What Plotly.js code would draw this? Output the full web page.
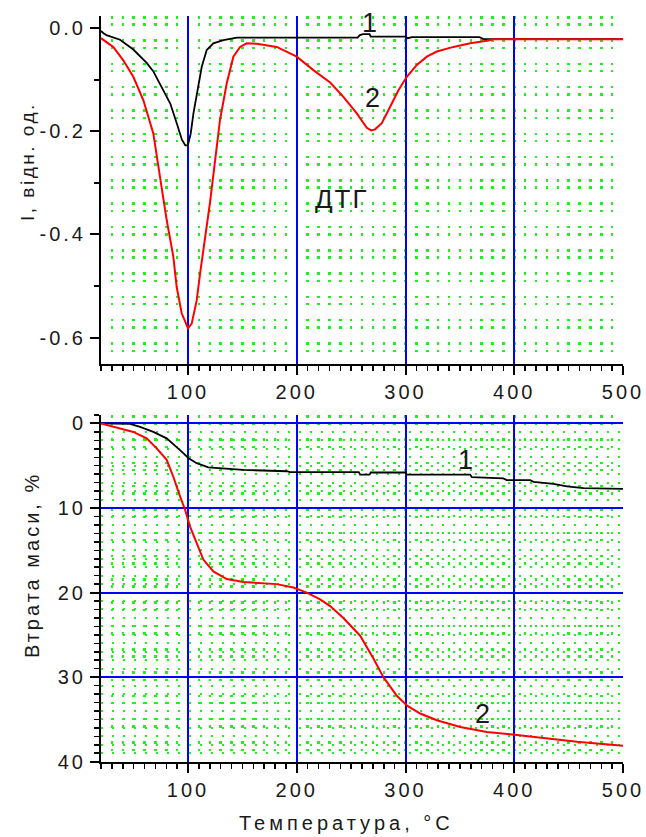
<!DOCTYPE html>
<html>
<head>
<meta charset="utf-8">
<script src="https://cdn.plot.ly/plotly-3.0.1.min.js"></script>
<style>
  html, body { margin: 0; padding: 0; background: #fff; }
  #chart { width: 646px; height: 837px; }
</style>
</head>
<body>
<div id="chart"></div>
<script>
// ---------- DATA ----------
// DTG (top panel), curve 1 (black)
const dtgTemp1 = [20, 22, 25, 37.5, 49.7, 62, 68, 77.6, 83.7, 89.8, 94.4, 97.5, 99.5, 100.5, 102.5, 105, 109.5, 112.6, 117.2, 123.3, 132.5, 145, 200, 256, 258, 261, 267, 268, 300, 302, 306, 368, 372, 420, 500];
const dtgI1    = [-0.005, -0.009, -0.013, -0.022, -0.041, -0.067, -0.083, -0.12, -0.146, -0.185, -0.216, -0.227, -0.227, -0.222, -0.204, -0.165, -0.113, -0.075, -0.042, -0.029, -0.023, -0.018, -0.018, -0.018, -0.013, -0.011, -0.011, -0.016, -0.016, -0.019, -0.017, -0.017, -0.021, -0.021, -0.021];
// DTG curve 2 (red)
const dtgTemp2 = [20, 31.3, 40.5, 49.7, 58.9, 68.1, 77.3, 80.4, 86.5, 89.6, 94.2, 98.8, 100, 103.4, 108, 111.1, 115.7, 120.3, 129.4, 135.6, 141.7, 147.9, 154, 163.2, 181.6, 200, 215.3, 230.7, 242.9, 255.2, 264.4, 268.5, 272, 278.2, 285.9, 293.5, 301.2, 310.4, 319.6, 328.8, 344.1, 359.5, 374.8, 381, 500];
const dtgI2    = [-0.019, -0.036, -0.062, -0.094, -0.139, -0.204, -0.33, -0.372, -0.443, -0.502, -0.553, -0.579, -0.582, -0.573, -0.528, -0.476, -0.411, -0.337, -0.178, -0.107, -0.055, -0.036, -0.029, -0.030, -0.036, -0.055, -0.081, -0.105, -0.133, -0.165, -0.193, -0.198, -0.196, -0.184, -0.152, -0.12, -0.094, -0.071, -0.055, -0.045, -0.036, -0.029, -0.024, -0.021, -0.021];
// TG mass loss (bottom panel), curve 1 (black)
const tgTemp1 = [20, 46.7, 55.9, 68.1, 80.4, 89.6, 95.7, 100.3, 108, 118.7, 150.9, 190.8, 193.9, 257, 258.3, 267, 268, 300, 301.2, 359.5, 361, 390, 393, 414.7, 417.7, 436.1, 448.4, 463.7, 500];
const tgLoss1 = [0, 0.05, 0.4, 1.0, 1.76, 2.75, 3.5, 4.1, 4.7, 5.2, 5.5, 5.65, 5.75, 5.75, 6.05, 6.05, 5.8, 5.8, 6.05, 6.05, 6.35, 6.5, 6.7, 6.7, 6.9, 7.15, 7.45, 7.65, 7.73];
// TG curve 2 (red)
const tgTemp2 = [20, 37.5, 49.7, 62, 71.2, 80.4, 86.5, 92.6, 97.3, 101.9, 108, 114.1, 123.3, 135.6, 150.9, 181.6, 196.9, 209.2, 221.5, 230.7, 242.9, 258.3, 270.5, 279.7, 292, 301.8, 313.5, 328.8, 350.3, 374.8, 400.3, 420.8, 457.6, 500];
const tgLoss2 = [0, 0.6, 1.0, 1.76, 2.94, 4.3, 6.3, 8.6, 10.2, 12.2, 14.1, 16.1, 17.5, 18.4, 18.75, 19.0, 19.4, 20.0, 20.8, 21.6, 23.0, 25.1, 27.8, 30.0, 32.2, 33.4, 34.3, 35.1, 35.9, 36.5, 36.8, 37.1, 37.65, 38.1];
// Tick labels
const xTickVals = [100, 200, 300, 400, 500];
const xTickText = ["100", "200", "300", "400", "500"];
const dtgTickVals = [0, -0.2, -0.4, -0.6];
const dtgTickText = ["0.0", "-0.2", "-0.4", "-0.6"];
const tgTickVals = [0, 10, 20, 30, 40];
const tgTickText = ["0", "10", "20", "30", "40"];

// ---------- STYLE ----------
const FONT = '"Liberation Sans", Arial, sans-serif';
const TXT = '#1a1a1a';
const BLUE = '#0000ff';
const GREEN = '#22ee22';
const XDOM = [101 / 646, 623 / 646];

const data = [
  { x: dtgTemp1, y: dtgI1, xaxis: 'x', yaxis: 'y', mode: 'lines', line: { color: '#000000', width: 1.8 }, hoverinfo: 'skip' },
  { x: dtgTemp2, y: dtgI2, xaxis: 'x', yaxis: 'y', mode: 'lines', line: { color: '#ff0000', width: 2 }, hoverinfo: 'skip' },
  { x: tgTemp1, y: tgLoss1, xaxis: 'x2', yaxis: 'y2', mode: 'lines', line: { color: '#000000', width: 1.8 }, hoverinfo: 'skip' },
  { x: tgTemp2, y: tgLoss2, xaxis: 'x2', yaxis: 'y2', mode: 'lines', line: { color: '#ff0000', width: 2 }, hoverinfo: 'skip' }
];

function xAxis(anchor) {
  return {
    domain: XDOM, anchor: anchor, range: [20, 500],
    tickmode: 'array', tickvals: xTickVals, ticktext: xTickText,
    ticks: 'outside', ticklen: 9, tickwidth: 2, tickcolor: '#000',
    showline: true, linewidth: 2, linecolor: '#000',
    showgrid: true, gridcolor: BLUE, gridwidth: 2, zeroline: false,
    tickfont: { family: FONT, size: 20, color: TXT },
    minor: { tick0: 0, dtick: 10, ticklen: 5, tickwidth: 1.5, tickcolor: '#000',
             showgrid: true, gridcolor: GREEN, gridwidth: 2.5, griddash: '2.5px,4.8px,2.5px,13.5px' }
  };
}

const layout = {
  width: 646, height: 837,
  margin: { l: 0, r: 0, t: 0, b: 0 },
  paper_bgcolor: '#ffffff', plot_bgcolor: '#ffffff',
  showlegend: false,
  font: { family: FONT, color: TXT },
  xaxis: xAxis('y'),
  yaxis: {
    domain: [1 - 364.3 / 837, 1 - 16 / 837], anchor: 'x', range: [-0.652, 0.024],
    tickmode: 'array', tickvals: dtgTickVals, ticktext: dtgTickText,
    ticks: 'outside', ticklen: 9, tickwidth: 2, tickcolor: '#000',
    showline: true, linewidth: 2, linecolor: '#000',
    showgrid: false, zeroline: false,
    tickfont: { family: FONT, size: 20, color: TXT },
    minor: { tick0: 0, dtick: 0.1, ticklen: 5, tickwidth: 1.5, tickcolor: '#000', showgrid: false }
  },
  xaxis2: xAxis('y2'),
  yaxis2: {
    domain: [1 - 761.7 / 837, 1 - 415 / 837], anchor: 'x2', range: [40, -1],
    tickmode: 'array', tickvals: tgTickVals, ticktext: tgTickText,
    ticks: 'outside', ticklen: 9, tickwidth: 2, tickcolor: '#000',
    showline: true, linewidth: 2, linecolor: '#000',
    showgrid: true, gridcolor: BLUE, gridwidth: 2, zeroline: false,
    tickfont: { family: FONT, size: 20, color: TXT },
    minor: { tick0: 0, dtick: 1, ticklen: 5, tickwidth: 1.5, tickcolor: '#000',
             showgrid: true, gridcolor: GREEN, gridwidth: 2, griddash: '2px,9px' }
  },
  annotations: [
    { text: '1', xref: 'x', yref: 'y', x: 266.5, y: 0.010, showarrow: false, font: { family: FONT, size: 27, color: TXT } },
    { text: '2', xref: 'x', yref: 'y', x: 270, y: -0.135, showarrow: false, font: { family: FONT, size: 27, color: TXT } },
    { text: 'ДТГ', xref: 'x', yref: 'y', x: 241.7, y: -0.332, showarrow: false, font: { family: FONT, size: 26, color: TXT } },
    { text: '1', xref: 'x2', yref: 'y2', x: 355, y: 4.3, showarrow: false, font: { family: FONT, size: 27, color: TXT } },
    { text: '2', xref: 'x2', yref: 'y2', x: 370.5, y: 34.3, showarrow: false, font: { family: FONT, size: 27, color: TXT } },
    { text: 'I, відн. од.', xref: 'paper', yref: 'paper', x: 27 / 646, y: 1 - 161 / 837, textangle: -90,
      showarrow: false, xanchor: 'center', yanchor: 'middle', font: { family: FONT, size: 19, color: TXT } },
    { text: 'Втрата маси, %', xref: 'paper', yref: 'paper', x: 32 / 646, y: 1 - 565 / 837, textangle: -90,
      showarrow: false, xanchor: 'center', yanchor: 'middle', font: { family: FONT, size: 20, color: TXT } },
    { text: 'Температура, °C', xref: 'paper', yref: 'paper', x: 346 / 646, y: 1 - 823 / 837,
      showarrow: false, xanchor: 'center', yanchor: 'middle', font: { family: FONT, size: 20, color: TXT } }
  ]
};

Plotly.newPlot('chart', data, layout, { staticPlot: true, displayModeBar: false }).then(function (gd) {
  gd.querySelectorAll('.xtick text, .ytick text, .x2tick text, .y2tick text').forEach(function (t) {
    t.style.letterSpacing = '3px';
  });
  gd.querySelectorAll('g.annotation').forEach(function (g) {
    var idx = +g.getAttribute('data-index');
    var t = g.querySelector('text');
    if (!t) return;
    if (idx === 7) t.style.letterSpacing = '4px';
    else if (idx === 6) t.style.letterSpacing = '3px';
    else if (idx === 5) t.style.letterSpacing = '2.5px';
    else if (idx === 2) t.style.letterSpacing = '2px';
  });
});
</script>
</body>
</html>
